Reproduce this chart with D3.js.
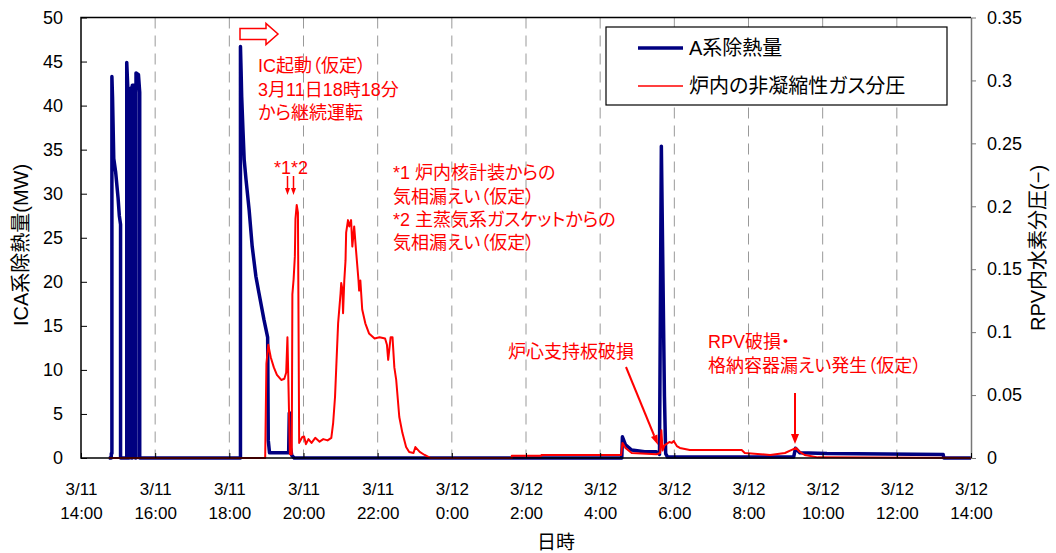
<!DOCTYPE html>
<html>
<head>
<meta charset="utf-8">
<script src="https://cdn.jsdelivr.net/npm/d3@7"></script>
<style>
body { margin: 0; background: #fff; }
svg text { font-family: "Liberation Sans", "Noto Sans CJK JP", sans-serif; font-feature-settings: "palt" 1; }
</style>
</head>
<body>
<script>
// A系除熱量 (MW), left axis
const heatRemoval = [
    ["3/11 14:45", 0], ["3/11 14:49", 0], ["3/11 14:49", 0.5], ["3/11 14:50", 0.5],
    ["3/11 14:50", 43.3], ["3/11 14:51", 41], ["3/11 14:53", 34], ["3/11 14:56", 32.5],
    ["3/11 14:58", 31], ["3/11 15:00", 29.5], ["3/11 15:02", 27.5], ["3/11 15:04", 26.5],
    ["3/11 15:04", 0], ["3/11 15:14", 0], ["3/11 15:14", 44.9], ["3/11 15:16", 41.5],
    ["3/11 15:16", 0], ["3/11 15:18", 0], ["3/11 15:18", 41.8], ["3/11 15:21", 42],
    ["3/11 15:22", 0], ["3/11 15:23", 0], ["3/11 15:23", 42.3], ["3/11 15:27", 42.3],
    ["3/11 15:28", 0], ["3/11 15:29", 0], ["3/11 15:29", 43.7], ["3/11 15:33", 43.5],
    ["3/11 15:35", 41.5], ["3/11 15:35", 0],
    ["3/11 18:18", 0], ["3/11 18:18", 46.7], ["3/11 18:19", 44], ["3/11 18:20", 41],
    ["3/11 18:22", 37.3], ["3/11 18:24", 33.9], ["3/11 18:27", 31.6], ["3/11 18:32", 28.2],
    ["3/11 18:37", 24], ["3/11 18:43", 20.6], ["3/11 18:48", 18.7], ["3/11 18:56", 15.7],
    ["3/11 19:02", 13.7], ["3/11 19:03", 2], ["3/11 19:05", 0.6], ["3/11 19:36", 0.6],
    ["3/11 19:37", 5.1], ["3/11 19:38", 5.1], ["3/11 19:39", 1.2], ["3/11 19:41", 0.3],
    ["3/11 19:45", 0],
    ["3/12 04:35", 0], ["3/12 04:36", 2.4], ["3/12 04:41", 1.5], ["3/12 04:51", 0.9],
    ["3/12 05:12", 0.7], ["3/12 05:31", 0.7], ["3/12 05:36", 0.4], ["3/12 05:39", 35.4],
    ["3/12 05:41", 24], ["3/12 05:44", 7], ["3/12 05:46", 0.5], ["3/12 05:49", 0.1],
    ["3/12 09:13", 0.1], ["3/12 09:16", 1.1], ["3/12 09:23", 0.6], ["3/12 10:07", 0.5],
    ["3/12 13:15", 0.4], ["3/12 13:16", 0], ["3/12 14:00", 0]
];

// 炉内の非凝縮性ガス分圧 (-), right axis
const gasPressure = [
    ["3/11 14:45", 0], ["3/11 18:58", 0], ["3/11 19:00", 0.075], ["3/11 19:03", 0.09],
    ["3/11 19:07", 0.08], ["3/11 19:12", 0.072], ["3/11 19:17", 0.066], ["3/11 19:24", 0.062],
    ["3/11 19:29", 0.063], ["3/11 19:32", 0.068], ["3/11 19:34", 0.096], ["3/11 19:36", 0.05],
    ["3/11 19:38", 0.003], ["3/11 19:41", 0.003], ["3/11 19:42", 0.13], ["3/11 19:44", 0.142],
    ["3/11 19:46", 0.16], ["3/11 19:47", 0.19], ["3/11 19:49", 0.201], ["3/11 19:51", 0.195],
    ["3/11 19:53", 0.012], ["3/11 19:58", 0.0167], ["3/11 20:01", 0.017], ["3/11 20:04", 0.011],
    ["3/11 20:08", 0.015], ["3/11 20:13", 0.012], ["3/11 20:19", 0.016], ["3/11 20:26", 0.013],
    ["3/11 20:32", 0.015], ["3/11 20:39", 0.014], ["3/11 20:45", 0.016], ["3/11 20:48", 0.028],
    ["3/11 20:51", 0.0485], ["3/11 20:53", 0.072], ["3/11 20:56", 0.107], ["3/11 21:00", 0.131],
    ["3/11 21:01", 0.139], ["3/11 21:03", 0.134], ["3/11 21:04", 0.115], ["3/11 21:06", 0.141],
    ["3/11 21:08", 0.157], ["3/11 21:09", 0.179], ["3/11 21:12", 0.189], ["3/11 21:14", 0.184],
    ["3/11 21:17", 0.189], ["3/11 21:19", 0.168], ["3/11 21:22", 0.184], ["3/11 21:25", 0.165],
    ["3/11 21:29", 0.141], ["3/11 21:30", 0.133], ["3/11 21:32", 0.141], ["3/11 21:35", 0.118],
    ["3/11 21:40", 0.107], ["3/11 21:46", 0.099], ["3/11 21:55", 0.095], ["3/11 22:03", 0.096],
    ["3/11 22:12", 0.095], ["3/11 22:15", 0.09], ["3/11 22:17", 0.078], ["3/11 22:21", 0.096],
    ["3/11 22:24", 0.096], ["3/11 22:27", 0.072], ["3/11 22:30", 0.062], ["3/11 22:35", 0.0326],
    ["3/11 22:40", 0.02], ["3/11 22:46", 0.0087], ["3/11 22:51", 0.0048], ["3/11 22:58", 0.004],
    ["3/11 23:01", 0.0087], ["3/11 23:08", 0.0048], ["3/11 23:16", 0.0024], ["3/11 23:25", 0],
    ["3/12 01:37", 0], ["3/12 01:37", 0.0018], ["3/12 02:25", 0.0018], ["3/12 02:25", 0.0024],
    ["3/12 04:34", 0.0024], ["3/12 04:36", 0.012], ["3/12 04:41", 0.008], ["3/12 04:51", 0.004],
    ["3/12 05:31", 0.003], ["3/12 05:37", 0.004], ["3/12 05:39", 0.022], ["3/12 05:41", 0.006],
    ["3/12 05:44", 0.01], ["3/12 05:52", 0.0127], ["3/12 05:56", 0.012], ["3/12 05:59", 0.0135],
    ["3/12 06:04", 0.0095], ["3/12 06:09", 0.008], ["3/12 06:25", 0.0064], ["3/12 07:49", 0.0064],
    ["3/12 07:54", 0.004], ["3/12 08:35", 0.0024], ["3/12 08:59", 0.004], ["3/12 09:10", 0.0064],
    ["3/12 09:17", 0.008], ["3/12 09:23", 0.0048], ["3/12 09:31", 0.0024], ["3/12 09:52", 0.0005],
    ["3/12 14:00", 0]
];

const xTickTimes = ["3/11 14:00", "3/11 16:00", "3/11 18:00", "3/11 20:00", "3/11 22:00",
    "3/12 00:00", "3/12 02:00", "3/12 04:00", "3/12 06:00", "3/12 08:00",
    "3/12 10:00", "3/12 12:00", "3/12 14:00"];
const leftTicks = [0, 5, 10, 15, 20, 25, 30, 35, 40, 45, 50];
const rightTicks = [0, 0.05, 0.1, 0.15, 0.2, 0.25, 0.3, 0.35];

const seriesNames = ["A系除熱量", "炉内の非凝縮性ガス分圧"];

function go() {
    const width = 1056, height = 553;
    const left = 81, right = 971, top = 17.5, bottom = 458;
    const parse = d3.timeParse("%m/%d %H:%M");

    const x = d3.scaleTime()
        .domain([parse(xTickTimes[0]), parse(xTickTimes[xTickTimes.length - 1])])
        .range([left, right]);
    const yLeft = d3.scaleLinear().domain([0, 50]).range([bottom, top]);
    const yRight = d3.scaleLinear().domain([0, 0.35]).range([bottom, top]);

    const svg = d3.select("body").append("svg")
        .attr("width", width)
        .attr("height", height);

    // dashed vertical grid
    svg.append("g")
        .selectAll("line")
        .data(xTickTimes.slice(1, -1))
        .enter().append("line")
        .attr("x1", d => x(parse(d))).attr("x2", d => x(parse(d)))
        .attr("y1", top).attr("y2", bottom)
        .attr("stroke", "#999")
        .attr("stroke-width", 1)
        .attr("stroke-dasharray", "11,7");

    const lineLeft = d3.line()
        .x(d => x(parse(d[0])))
        .y(d => yLeft(d[1]))
        .curve(d3.curveLinear);
    const lineRight = d3.line()
        .x(d => x(parse(d[0])))
        .y(d => yRight(d[1]))
        .curve(d3.curveLinear);

    svg.append("path")
        .attr("d", lineLeft(heatRemoval))
        .attr("fill", "none")
        .attr("stroke", "#000080")
        .attr("stroke-width", 3.5)
        .attr("stroke-linejoin", "round");

    svg.append("path")
        .attr("d", lineRight(gasPressure))
        .attr("fill", "none")
        .attr("stroke", "#ff0000")
        .attr("stroke-width", 2)
        .attr("stroke-linejoin", "round");

    // frame
    svg.append("path")
        .attr("d", `M${right},${top}H${left}V${bottom}H${right}`)
        .attr("fill", "none")
        .attr("stroke", "#000")
        .attr("stroke-width", 1.5);

    // left axis
    const gl = svg.append("g")
        .attr("transform", `translate(${left},0)`)
        .call(d3.axisLeft(yLeft).tickValues(leftTicks).tickSizeInner(-6).tickSizeOuter(0).tickPadding(18));
    gl.select(".domain").remove();
    gl.selectAll(".tick line").attr("stroke", "#000");
    gl.selectAll(".tick text").attr("font-size", 18).attr("fill", "#000");

    // right axis
    const gr = svg.append("g")
        .attr("transform", `translate(${right},0)`)
        .call(d3.axisRight(yRight).tickValues(rightTicks).tickSizeInner(5).tickSizeOuter(0).tickPadding(11)
            .tickFormat(d => String(d)));
    gr.select(".domain").attr("stroke", "#777").attr("stroke-width", 1.5);
    gr.selectAll(".tick line").attr("stroke", "#777");
    gr.selectAll(".tick text").attr("font-size", 18).attr("fill", "#000");

    // bottom axis, two-line labels
    const fmtDay = d3.timeFormat("%-m/%-d"), fmtHour = d3.timeFormat("%-H:%M");
    const gb = svg.append("g")
        .attr("transform", `translate(0,${bottom})`)
        .call(d3.axisBottom(x).tickValues(xTickTimes.map(parse)).tickSizeInner(-5).tickSizeOuter(0).tickFormat(""));
    gb.select(".domain").remove();
    gb.selectAll(".tick line").attr("stroke", "#000");
    const tl = gb.selectAll(".tick");
    tl.append("text").attr("y", 37).attr("fill", "#000").attr("font-size", 17)
        .attr("text-anchor", "middle").text(d => fmtDay(d));
    tl.append("text").attr("y", 61).attr("fill", "#000").attr("font-size", 17)
        .attr("text-anchor", "middle").text(d => fmtHour(d));

    // axis titles
    svg.append("text")
        .attr("transform", "translate(28,245) rotate(-90)")
        .attr("text-anchor", "middle")
        .attr("font-size", 20)
        .text("ICA系除熱量(MW)");
    svg.append("text")
        .attr("transform", "translate(1045,248) rotate(-90)")
        .attr("text-anchor", "middle")
        .attr("font-size", 20)
        .text("RPV内水素分圧(−)");
    svg.append("text")
        .attr("x", 556).attr("y", 549)
        .attr("text-anchor", "middle")
        .attr("font-size", 19)
        .text("日時");

    // legend
    const lg = svg.append("g");
    lg.append("rect")
        .attr("x", 606).attr("y", 27).attr("width", 341).attr("height", 78)
        .attr("fill", "#fff").attr("stroke", "#000").attr("stroke-width", 1.2);
    [["#000080", 3.5, 48], ["#ff0000", 1.5, 86]].forEach((s, i) => {
        lg.append("line").attr("x1", 638).attr("x2", 683).attr("y1", s[2]).attr("y2", s[2])
            .attr("stroke", s[0]).attr("stroke-width", s[1]);
        lg.append("text").attr("x", 689).attr("y", s[2] + 7).attr("font-size", 20)
            .text(seriesNames[i]);
    });

    // annotations
    const an = svg.append("g").attr("fill", "#ff0000");
    function arrow(x1, y1, x2, y2, hl, hw, sw) {
        const a = Math.atan2(y2 - y1, x2 - x1);
        const bx = x2 - hl * Math.cos(a), by = y2 - hl * Math.sin(a);
        an.append("line").attr("x1", x1).attr("y1", y1).attr("x2", bx).attr("y2", by)
            .attr("stroke", "#ff0000").attr("stroke-width", sw);
        const px = -Math.sin(a) * hw / 2, py = Math.cos(a) * hw / 2;
        an.append("path").attr("d", `M${x2},${y2}L${bx + px},${by + py}L${bx - px},${by - py}Z`);
    }

    an.append("path")
        .attr("d", "M240,28.5H266V23.5L278,34L266,44.5V39.5H240Z")
        .attr("fill", "#fff").attr("stroke", "#ff0000").attr("stroke-width", 1.5);

    const texts = [
        [258, 72, "IC起動（仮定）"],
        [258, 96, "3月11日18時18分"],
        [258, 119, "から継続運転"],
        [274, 174, "*1*2"],
        [393, 179, "*1 炉内核計装からの"],
        [393, 203, "気相漏えい（仮定）"],
        [393, 226, "*2 主蒸気系ガスケットからの"],
        [393, 249, "気相漏えい（仮定）"],
        [508, 358, "炉心支持板破損"],
        [708, 348, "RPV破損・"],
        [708, 372, "格納容器漏えい発生（仮定）"]
    ];
    an.selectAll("text.note").data(texts).enter().append("text")
        .attr("class", "note")
        .attr("x", d => d[0]).attr("y", d => d[1])
        .attr("font-size", 18)
        .text(d => d[2]);

    arrow(287.5, 176, 287.5, 195, 7, 5, 1.5);
    arrow(293.5, 176, 293.5, 195, 7, 5, 1.5);
    arrow(626, 367, 658, 445, 10, 7, 2);
    arrow(795, 393, 795, 444, 10, 8, 2);
}

window.onload = function() {
    go();
};
</script>
</body>
</html>
